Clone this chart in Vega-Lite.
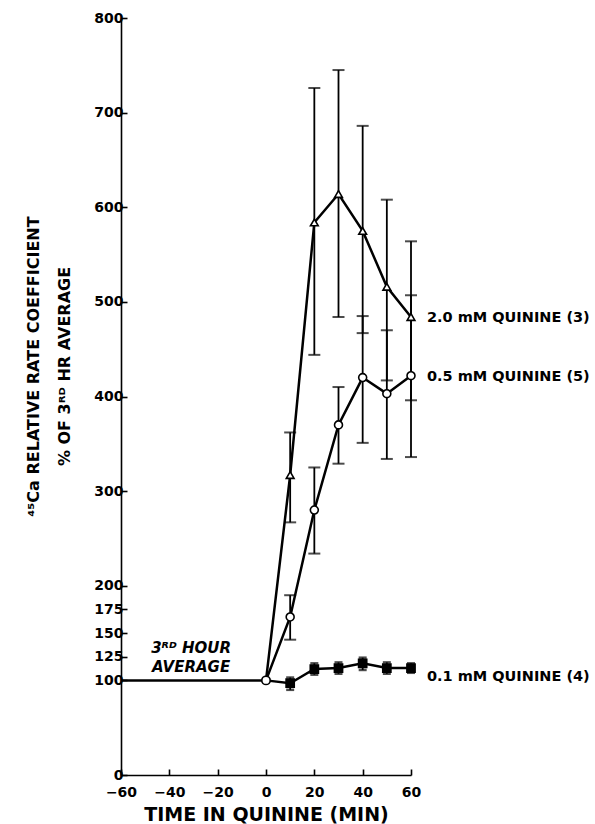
{
  "$schema": "https://vega.github.io/schema/vega-lite/v6.json",
  "autosize": "none",
  "width": 290,
  "height": 757,
  "padding": {"left": 121, "top": 18, "right": 184, "bottom": 49},
  "background": "white",
  "config": {
    "view": {"stroke": null},
    "font": "DejaVu Sans",
    "axis": {
      "domainColor": "black", "domainWidth": 1.6,
      "tickColor": "black", "tickWidth": 1.6, "tickSize": -6,
      "labelFont": "DejaVu Sans", "labelFontWeight": "bold", "labelFontSize": 14, "labelColor": "black",
      "labelFlush": false, "labelOverlap": false,
      "titleFont": "DejaVu Sans", "titleFontWeight": "bold", "titleColor": "black",
      "grid": false
    }
  },
  "datasets": {
    "pts": [
      {"s": "base", "t": -60, "v": 100},
      {"s": "base", "t": 0, "v": 100},
      {"s": "2.0 mM", "t": 0, "v": 100},
      {"s": "2.0 mM", "t": 10, "v": 317, "lo": 267, "hi": 362},
      {"s": "2.0 mM", "t": 20, "v": 584, "lo": 444, "hi": 726},
      {"s": "2.0 mM", "t": 30, "v": 614, "lo": 484, "hi": 745},
      {"s": "2.0 mM", "t": 40, "v": 575, "lo": 467, "hi": 686},
      {"s": "2.0 mM", "t": 50, "v": 516, "lo": 417, "hi": 608},
      {"s": "2.0 mM", "t": 60, "v": 484, "lo": 396, "hi": 564},
      {"s": "0.5 mM", "t": 0, "v": 100},
      {"s": "0.5 mM", "t": 10, "v": 167, "lo": 143, "hi": 190},
      {"s": "0.5 mM", "t": 20, "v": 280, "lo": 234, "hi": 325},
      {"s": "0.5 mM", "t": 30, "v": 370, "lo": 329, "hi": 410},
      {"s": "0.5 mM", "t": 40, "v": 420, "lo": 351, "hi": 485},
      {"s": "0.5 mM", "t": 50, "v": 403, "lo": 334, "hi": 470},
      {"s": "0.5 mM", "t": 60, "v": 422, "lo": 336, "hi": 507},
      {"s": "0.1 mM", "t": 0, "v": 100},
      {"s": "0.1 mM", "t": 10, "v": 97, "lo": 90, "hi": 103},
      {"s": "0.1 mM", "t": 20, "v": 112, "lo": 106, "hi": 118},
      {"s": "0.1 mM", "t": 30, "v": 113, "lo": 107, "hi": 119},
      {"s": "0.1 mM", "t": 40, "v": 118, "lo": 111, "hi": 124},
      {"s": "0.1 mM", "t": 50, "v": 113, "lo": 107, "hi": 119},
      {"s": "0.1 mM", "t": 60, "v": 113, "lo": 108, "hi": 118}
    ],
    "labels": [
      {"t": 66.6, "v": 483, "text": "2.0 mM QUININE (3)"},
      {"t": 66.6, "v": 421, "text": "0.5 mM QUININE (5)"},
      {"t": 66.6, "v": 104, "text": "0.1 mM QUININE (4)"}
    ],
    "notes": [
      {"t": -31, "v": 129, "text": "3ᴿᴰ HOUR"},
      {"t": -31, "v": 109, "text": "AVERAGE"}
    ]
  },
  "layer": [
    {
      "data": {"name": "pts"},
      "transform": [{"filter": {"field": "lo", "valid": true}}],
      "mark": {"type": "rule", "color": "black", "strokeWidth": 1.8},
      "encoding": {
        "x": {"field": "t", "type": "quantitative",
              "scale": {"domain": [-60, 60], "nice": false, "zero": false},
              "axis": {
                "title": "TIME IN QUININE (MIN)", "titleFontSize": 19, "titlePadding": 6,
                "values": [-60, -50, -40, -30, -20, -10, 0, 10, 20, 30, 40, 50, 60],
                "labelExpr": "datum.value % 20 == 0 ? datum.label : ''",
                "labelPadding": 16
              }},
        "y": {"field": "lo", "type": "quantitative",
              "scale": {"domain": [0, 800], "nice": false},
              "axis": {
                "title": ["⁴⁵Ca RELATIVE RATE COEFFICIENT", "% OF 3ᴿᴰ HR AVERAGE"],
                "titleFontSize": 16, "titleLineHeight": 31,
                "titleAngle": -90, "titleAlign": "center", "titleBaseline": "alphabetic",
                "titleX": -83, "titleY": 348,
                "values": [0, 100, 125, 150, 175, 200, 300, 400, 500, 600, 700, 800],
                "labelPadding": 4
              }},
        "y2": {"field": "hi"}
      }
    },
    {
      "data": {"name": "pts"},
      "transform": [{"filter": {"field": "lo", "valid": true}}, {"filter": "datum.s != '0.1 mM'"}],
      "layer": [
        {"mark": {"type": "tick", "orient": "horizontal", "color": "black", "size": 12, "thickness": 2},
         "encoding": {"x": {"field": "t", "type": "quantitative"}, "y": {"field": "lo", "type": "quantitative"}}},
        {"mark": {"type": "tick", "orient": "horizontal", "color": "black", "size": 12, "thickness": 2},
         "encoding": {"x": {"field": "t", "type": "quantitative"}, "y": {"field": "hi", "type": "quantitative"}}}
      ]
    },
    {
      "data": {"name": "pts"},
      "transform": [{"filter": {"field": "lo", "valid": true}}, {"filter": "datum.s == '0.1 mM'"}],
      "layer": [
        {"mark": {"type": "tick", "orient": "horizontal", "color": "black", "size": 8, "thickness": 2.5},
         "encoding": {"x": {"field": "t", "type": "quantitative"}, "y": {"field": "lo", "type": "quantitative"}}},
        {"mark": {"type": "tick", "orient": "horizontal", "color": "black", "size": 8, "thickness": 2.5},
         "encoding": {"x": {"field": "t", "type": "quantitative"}, "y": {"field": "hi", "type": "quantitative"}}}
      ]
    },
    {
      "data": {"name": "pts"},
      "mark": {"type": "line", "color": "black", "strokeWidth": 2.5},
      "encoding": {
        "x": {"field": "t", "type": "quantitative"},
        "y": {"field": "v", "type": "quantitative"},
        "detail": {"field": "s"}
      }
    },
    {
      "data": {"name": "pts"},
      "transform": [{"filter": "datum.t > 0 || (datum.t == 0 && datum.s == 'base')"}],
      "mark": {"type": "point", "filled": true, "stroke": "black", "strokeWidth": 1.6, "opacity": 1},
      "encoding": {
        "x": {"field": "t", "type": "quantitative"},
        "y": {"field": "v", "type": "quantitative"},
        "shape": {"field": "s", "type": "nominal", "legend": null,
                  "scale": {"domain": ["2.0 mM", "0.5 mM", "0.1 mM", "base"], "range": ["triangle-up", "circle", "square", "circle"]}},
        "fill": {"field": "s", "type": "nominal", "legend": null,
                 "scale": {"domain": ["2.0 mM", "0.5 mM", "0.1 mM", "base"], "range": ["white", "white", "black", "white"]}},
        "size": {"field": "s", "type": "nominal", "legend": null,
                 "scale": {"domain": ["2.0 mM", "0.5 mM", "0.1 mM", "base"], "range": [60, 70, 30, 70]}}
      }
    },
    {
      "data": {"name": "labels"},
      "mark": {"type": "text", "align": "left", "baseline": "middle", "font": "DejaVu Sans", "fontWeight": "bold", "fontSize": 14.5, "color": "black"},
      "encoding": {
        "x": {"field": "t", "type": "quantitative"},
        "y": {"field": "v", "type": "quantitative"},
        "text": {"field": "text"}
      }
    },
    {
      "data": {"name": "notes"},
      "mark": {"type": "text", "align": "center", "baseline": "alphabetic", "font": "DejaVu Sans", "fontWeight": "bold", "fontStyle": "italic", "fontSize": 15, "color": "black"},
      "encoding": {
        "x": {"field": "t", "type": "quantitative"},
        "y": {"field": "v", "type": "quantitative"},
        "text": {"field": "text"}
      }
    }
  ]
}
